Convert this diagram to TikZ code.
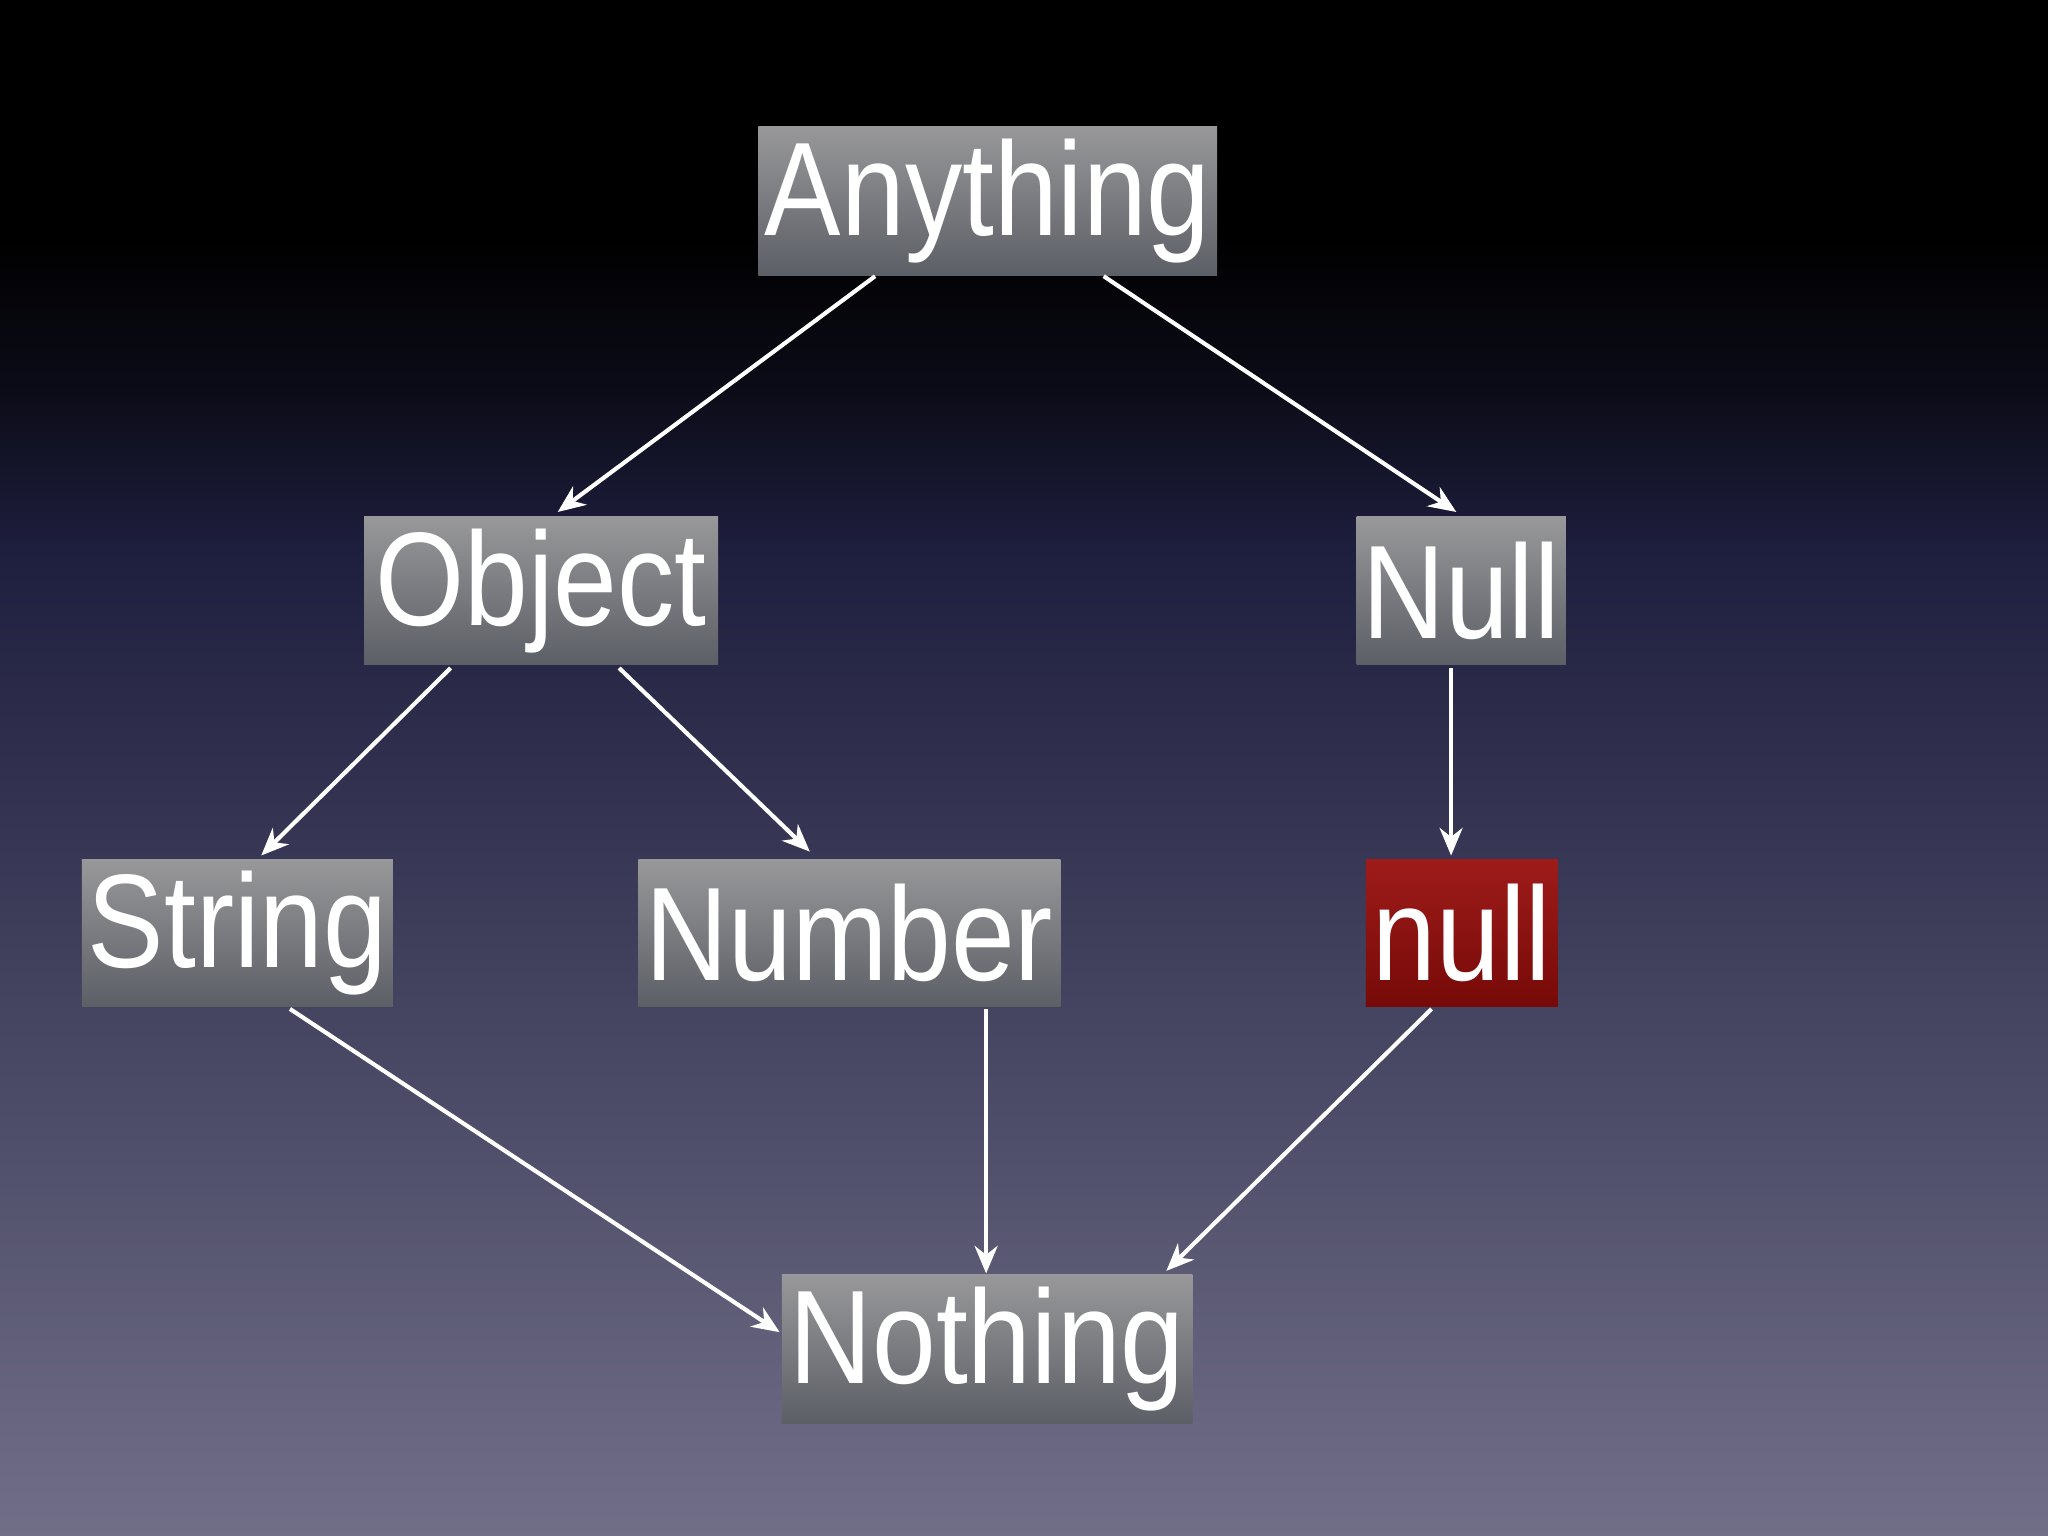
\documentclass[tikz,border=0pt]{standalone}
\usepackage{fontspec}
\setmainfont{Liberation Sans}[FakeStretch=0.86]
\usetikzlibrary{arrows.meta,calc}
\definecolor{bgtop}{RGB}{0,0,0}
\definecolor{bgmid}{RGB}{30,30,62}
\definecolor{bgbot}{RGB}{113,111,136}
\definecolor{boxtop}{RGB}{152,152,154}
\definecolor{boxbot}{RGB}{92,95,102}
\definecolor{redtop}{RGB}{158,28,26}
\definecolor{redbot}{RGB}{118,10,8}
\tikzset{
 box/.style={anchor=north west,inner sep=0pt,top color=boxtop,bottom color=boxbot,text=white,font=\fontsize{29}{30}\selectfont},
 redbox/.style={box,top color=redtop,bottom color=redbot},
 arr/.style={draw=white,line width=0.9pt,-{Stealth[length=6pt,width=5pt]}}
}
\begin{document}
\begin{tikzpicture}[x=0.01cm,y=-0.01cm]
\useasboundingbox (0,0) rectangle (1568,1176);
\fill[black] (0,0) rectangle (1568,180);
\shade[top color=black,bottom color=black!60!bgmid] (0,180) rectangle (1568,300);
\shade[top color=black!60!bgmid,bottom color=bgmid] (0,300) rectangle (1568,420);
\shade[top color=bgmid,bottom color=bgbot] (0,420) rectangle (1568,1176);
\node[box,minimum width=3.51cm,minimum height=1.14cm] (any) at (580,96) {Anything};
\node[box,minimum width=2.71cm,minimum height=1.13cm] (obj) at (278,395) {Object};
\node[box,minimum width=1.60cm,minimum height=1.13cm] (Nul) at (1038,395) {Null};
\node[box,minimum width=2.38cm,minimum height=1.13cm] (str) at (62,657) {String};
\node[box,minimum width=3.23cm,minimum height=1.13cm] (num) at (488,657) {Number};
\node[redbox,minimum width=1.47cm,minimum height=1.13cm] (nul) at (1045,657) {null};
\node[box,minimum width=3.14cm,minimum height=1.14cm] (not) at (598,975) {Nothing};
\draw[arr] ($(any.south west)+(90,0)$) -- ($(obj.north west)+(149,-3)$);
\draw[arr] ($(any.south west)+(265,0)$) -- ($(Nul.north west)+(77,-3)$);
\draw[arr] ($(obj.south west)+(67,2)$) -- ($(str.north west)+(138,-2)$);
\draw[arr] ($(obj.south west)+(196,2)$) -- ($(num.north west)+(132,-5)$);
\draw[arr] ($(Nul.south west)+(73,2)$) -- ($(nul.north west)+(66,-2)$);
\draw[arr] ($(str.south west)+(160,1)$) -- ($(not.north west)+(-1,45)$);
\draw[arr] ($(num.south west)+(267,1)$) -- ($(not.north west)+(157,0)$);
\draw[arr] ($(nul.south west)+(51,1)$) -- ($(not.north west)+(295,-2)$);
\end{tikzpicture}
\end{document}
